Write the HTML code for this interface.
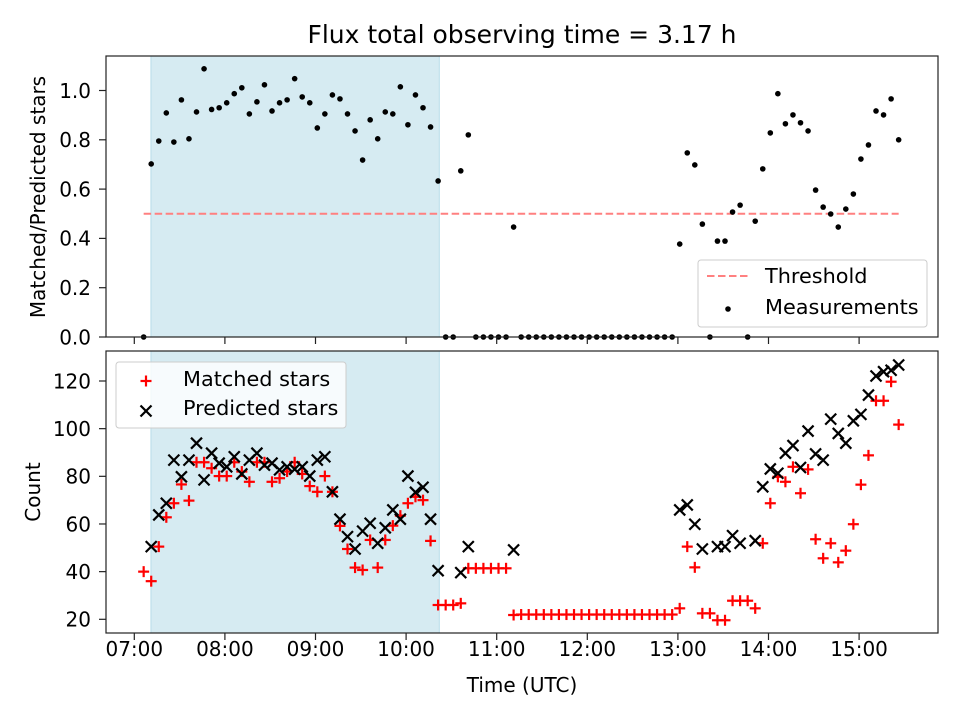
<!DOCTYPE html>
<html><head><meta charset="utf-8"><style>
html,body{margin:0;padding:0;background:#fff;}
svg{display:block;font-family:"DejaVu Sans","Liberation Sans",sans-serif;}
</style></head><body>
<svg id="fig" width="960" height="720" viewBox="0 0 960 720" xmlns="http://www.w3.org/2000/svg"></svg>
<script>
// ---- data (sample index i -> time 07:06 + 5*i min) ----
const startMinute = 6.2;
const stepMinutes = 5;
const ratioValues = [0,.702,.795,.909,.791,.962,.804,.913,1.088,.923,.930,.950,.987,1.011,.905,.954,1.023,.917,.950,.962,1.048,.974,.950,.848,.905,.982,.966,.905,.836,.718,.881,.804,.913,.905,1.015,.861,.982,.930,.852,.633,0,0,.674,.820,0,0,0,0,0,.446,0,0,0,0,0,0,0,0,0,0,0,0,0,0,0,0,0,0,0,0,0,.377,.747,.698,.458,0,.389,.389,.507,.535,0,.470,.682,.828,.987,.865,.901,.869,.836,.596,.527,.499,.446,.519,.580,.722,.779,.917,.901,.966,.800];
const matchedValues = [40,36,50.5,62.8,68.7,76.6,69.8,85.9,85.9,83.4,80.1,80.1,85.9,82,77.7,85.9,85.9,77.7,79.2,82,85.9,81,75.9,73.5,80.1,73.5,59.2,49.5,41.7,40.7,53.3,41.7,53.3,59.3,63.5,68.7,71.4,70,52.9,26,26,26,26.7,41.4,41.4,41.4,41.4,41.4,41.4,21.8,22,22,22,22,22,22,22,22,22,22,22,22,22,22,22,22,22,22,22,22,22,24.6,50.5,41.8,22.5,22.5,19.6,19.6,27.8,27.8,27.8,24.6,51.9,68.7,79.8,77.7,84,72.9,82.9,53.6,45.6,51.9,43.9,48.8,59.9,76.5,88.8,111.7,111.7,119.7,101.7];
const predictedValues = [null,50.5,63.8,68.7,86.8,79.8,86.8,93.9,78.5,89.7,85.5,84,88.2,81,86.8,89.7,84.7,85.5,82.7,84,83,84,80.1,86.8,88.2,73.5,62,54.7,49.5,57,60.3,51.9,58.4,65.9,62,80.1,73.3,75.4,62,40.4,null,null,39.6,50.5,null,null,null,null,null,49.1,null,null,null,null,null,null,null,null,null,null,null,null,null,null,null,null,null,null,null,null,null,65.9,68,59.9,49.5,null,50.5,50.5,55.1,51.9,null,53,75.6,83.1,81.3,89.7,92.9,83.7,99,89.4,86.8,104,98,93.9,103.3,106,114.1,122.1,123.9,124.5,126.7];
const xTickLabels = ["07:00","08:00","09:00","10:00","11:00","12:00","13:00","14:00","15:00"];
const ratioTicks = [0,0.2,0.4,0.6,0.8,1.0];
const countTicks = [20,40,60,80,100,120];
const threshold = [0.5];
const shadeRange = [11, 202]; // minutes after 07:00

// ---- axes ----
const L=106,R=938, T1=56,B1=337, T2=351,B2=633;
const xs = m => 134.3 + m/60*90.6;
const y1 = v => 337 - v*246.5;
const y2 = v => 619.3 - (v-20)*2.383;
const tOf = i => startMinute + stepMinutes*i;
const FS='20';
const FL='20.8';

const NS="http://www.w3.org/2000/svg";
const svg=document.getElementById('fig');
function mk(tag,attrs,parent){const e=document.createElementNS(NS,tag);for(const k in attrs)e.setAttribute(k,attrs[k]);(parent||svg).appendChild(e);return e;}

mk('rect',{x:0,y:0,width:960,height:720,fill:'#fff'});

const title=mk('text',{x:522,y:43,'font-size':'25','text-anchor':'middle',fill:'#000'});
title.textContent='Flux total observing time = 3.17 h';



function panel(top,bot,name){
  const g=mk('g',{});
  
  
  const sh=mk('rect',{x:xs(shadeRange[0]),y:top,width:xs(shadeRange[1])-xs(shadeRange[0]),height:bot-top,fill:'#add8e6','fill-opacity':0.5,stroke:'#add8e6','stroke-opacity':0.8},g);
  
  
  return g;
}
function frame(g,top,bot,withLabels){
  mk('rect',{x:L,y:top,width:R-L,height:bot-top,fill:'none',stroke:'#222','stroke-width':1.2},g);
  xTickLabels.forEach((lab,k)=>{
    const x=xs(k*60);
    mk('line',{x1:x,x2:x,y1:bot,y2:bot+7,stroke:'#222','stroke-width':1.2},g);
    if(withLabels){
      const t=mk('text',{x:x,y:bot+23,'font-size':FS,'text-anchor':'middle',fill:'#000'},g);
      t.textContent=lab;
      
      
    }
  });
}

// ---- top panel ----
const g1=panel(T1,B1,'ratio-panel');
const th=mk('line',{x1:xs(tOf(0)),x2:xs(tOf(ratioValues.length-1)),y1:y1(threshold[0]),y2:y1(threshold[0]),stroke:'#ff8080','stroke-width':2,'stroke-dasharray':'7.5,3.5'},g1);


ratioValues.forEach((v,i)=>{
  const c=mk('circle',{cx:xs(tOf(i)),cy:y1(v),r:2.8,fill:'#000'},g1);
  
  
});
frame(g1,T1,B1,false);
ratioTicks.forEach(v=>{
  const y=y1(v);
  mk('line',{x1:L-7,x2:L,y1:y,y2:y,stroke:'#222','stroke-width':1.2},g1);
  const t=mk('text',{x:L-15,y:y+7.3,'font-size':FS,'text-anchor':'end',fill:'#000'},g1);
  t.textContent=v.toFixed(1);
  
  
});
const yl1=mk('text',{x:0,y:0,'font-size':FS,'text-anchor':'middle',fill:'#000',transform:'translate(45,197) rotate(-90)'});
yl1.textContent='Matched/Predicted stars';



// top legend
const lg1=mk('g',{});


mk('rect',{x:698,y:260,width:229,height:67,rx:3,fill:'#fff','fill-opacity':0.8,stroke:'#ccc'},lg1);
mk('line',{x1:707,x2:748,y1:276,y2:276,stroke:'#ff8080','stroke-width':2,'stroke-dasharray':'7.5,3.5'},lg1);
mk('circle',{cx:728,cy:309,r:2.8,fill:'#000'},lg1);
const lt1=mk('text',{x:765,y:283,'font-size':FL,fill:'#000'},lg1);lt1.textContent='Threshold';

const lt2=mk('text',{x:765,y:314,'font-size':FL,fill:'#000'},lg1);lt2.textContent='Measurements';


// ---- bottom panel ----
const g2=panel(T2,B2,'count-panel');
function plus(cx,cy,p){const g=mk('g',{stroke:'#ff0000','stroke-width':2.2},p);mk('line',{x1:cx-5.5,x2:cx+5.5,y1:cy,y2:cy},g);mk('line',{x1:cx,x2:cx,y1:cy-5.5,y2:cy+5.5},g);return g;}
function cross(cx,cy,p){const g=mk('g',{stroke:'#000','stroke-width':2.2},p);mk('line',{x1:cx-5.5,x2:cx+5.5,y1:cy-5.5,y2:cy+5.5},g);mk('line',{x1:cx-5.5,x2:cx+5.5,y1:cy+5.5,y2:cy-5.5},g);return g;}
matchedValues.forEach((v,i)=>{
  const m=plus(xs(tOf(i)),y2(v),g2);
  
  
});
predictedValues.forEach((v,i)=>{
  if(v===null)return;
  const m=cross(xs(tOf(i)),y2(v),g2);
  
  
});
frame(g2,T2,B2,true);
countTicks.forEach(v=>{
  const y=y2(v);
  mk('line',{x1:L-7,x2:L,y1:y,y2:y,stroke:'#222','stroke-width':1.2},g2);
  const t=mk('text',{x:L-15,y:y+7.3,'font-size':FS,'text-anchor':'end',fill:'#000'},g2);
  t.textContent=String(v);
  
  
});
const yl2=mk('text',{x:0,y:0,'font-size':FS,'text-anchor':'middle',fill:'#000',transform:'translate(40,492) rotate(-90)'});
yl2.textContent='Count';


const xl=mk('text',{x:522,y:692,'font-size':FS,'text-anchor':'middle',fill:'#000'});
xl.textContent='Time (UTC)';



// bottom legend
const lg2=mk('g',{});


mk('rect',{x:116,y:362,width:230,height:66,rx:3,fill:'#fff','fill-opacity':0.8,stroke:'#ccc'},lg2);
plus(146,381,lg2);
cross(146,411,lg2);
const lt3=mk('text',{x:183,y:386,'font-size':FL,fill:'#000'},lg2);lt3.textContent='Matched stars';

const lt4=mk('text',{x:183,y:415,'font-size':FL,fill:'#000'},lg2);lt4.textContent='Predicted stars';

</script>
</body></html>
